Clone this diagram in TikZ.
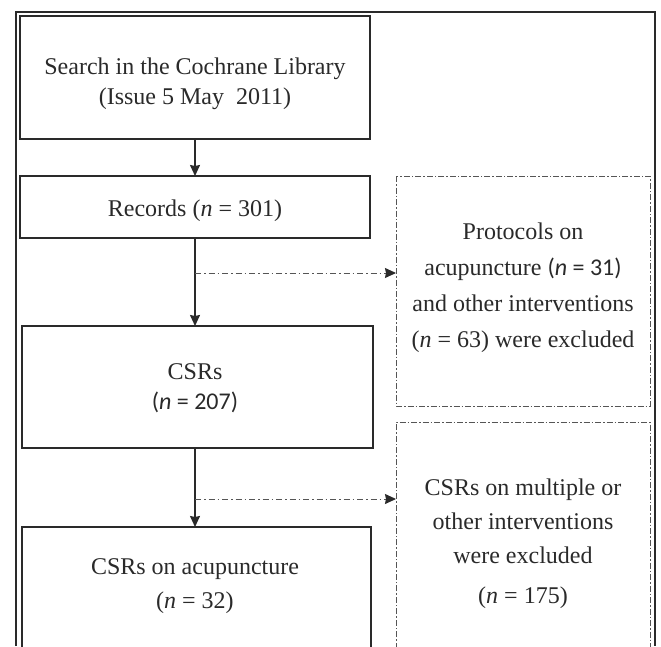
\documentclass[tikz,border=0pt]{standalone}
\usepackage{fontspec}
\setmainfont{Liberation Serif}
\newfontfamily\calfont{Carlito}
\usetikzlibrary{arrows.meta}
\definecolor{ink}{HTML}{2A2A2A}
\definecolor{dashink}{HTML}{555555}
\tikzset{
  solidbox/.style={draw=ink, line width=1.4pt},
  dashbox/.style={draw=dashink, line width=0.9pt, dash pattern=on 6pt off 2pt on 1.5pt off 2pt},
  txt/.style={font=\fontsize{24}{30}\selectfont, text=ink, align=center, inner sep=0pt},
  flow/.style={draw=ink, line width=1.4pt, -{Stealth[length=11pt,width=10pt,inset=1pt]}},
  dflow/.style={draw=dashink, line width=1pt, dash pattern=on 6pt off 3pt on 1.5pt off 3pt, -{Stealth[length=11pt,width=10pt,inset=1pt,color=ink]}}
}
\begin{document}
\begin{tikzpicture}[x=1pt,y=-1pt]
\useasboundingbox (0,0) rectangle (661,646);
\fill[white] (0,0) rectangle (661,646);
% outer frame (cut off at bottom)
\draw[ink, line width=2pt] (16,646) -- (16,12) -- (655,12) -- (655,646);
% boxes
\draw[solidbox] (20,16) rectangle (370,139);
\coordinate (searchB) at (195,139);
\node[txt] (search) at (195,84) {Search in the Cochrane Library\\(Issue 5 May\ \ 2011)};

\draw[solidbox] (20,176) rectangle (370,238);
\coordinate (recT) at (195,176);
\coordinate (recB) at (195,238);
\node[txt] (records) at (195,211) {Records (\textit{n} = 301)};

\draw[solidbox] (22,326) rectangle (373,448);
\coordinate (csrT) at (195,326);
\coordinate (csrB) at (195,448);
\node[txt] (csrs) at (195,388) {CSRs\\{\calfont(\textit{n} = 207)}};

\draw[solidbox] (22,660) -- (22,527) -- (371,527) -- (371,660);
\coordinate (acuT) at (195,527);
\node[txt] (acu) at (195,586) {CSRs on acupuncture\\[4pt](\textit{n} = 32)};

\draw[dashbox] (396,176) rectangle (650,406);
\coordinate (ex1L) at (396,273);
\node[txt, font=\fontsize{24}{36}\selectfont] (ex1) at (523,288) {Protocols on\\acupuncture {\calfont(\textit{n} = 31)}\\and other interventions\\(\textit{n} = 63) were excluded};

\draw[dashbox] (396,660) -- (396,422) -- (650,422) -- (650,660);
\coordinate (ex2L) at (396,499);
\node[txt, font=\fontsize{24}{34}\selectfont] (ex2) at (523,544) {CSRs on multiple or\\other interventions\\were excluded\\[6pt](\textit{n} = 175)};

% connectors
\draw[flow] (searchB) -- (recT);
\draw[flow] (recB) -- (csrT);
\draw[flow] (csrB) -- (acuT);
\coordinate (j1) at (195,273);
\coordinate (j2) at (195,499);
\draw[dflow] (j1) -- (ex1L);
\draw[dflow] (j2) -- (ex2L);
\end{tikzpicture}
\end{document}
